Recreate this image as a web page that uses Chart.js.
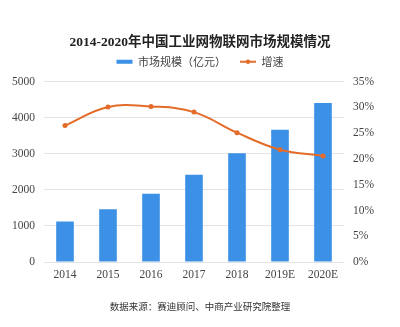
<!DOCTYPE html>
<html>
<head>
<meta charset="utf-8">
<script src="https://cdn.jsdelivr.net/npm/chart.js@4/dist/chart.umd.min.js"></script>
<style>
  html, body { margin: 0; padding: 0; background: #fff; }
  #wrap { width: 400px; height: 327px; }
</style>
</head>
<body>
<div id="wrap"><canvas id="c" width="400" height="327"></canvas></div>
<script>
// 2014-2020 China industrial IoT market: size (100M yuan) and growth rate (%)
const years = ['2014', '2015', '2016', '2017', '2018', '2019E', '2020E'];
const marketSize = [1120, 1464, 1890, 2417, 3019, 3667, 4408];
const growthRate = [26.5, 30.1, 30.2, 29.1, 25.1, 21.8, 20.6];
const sizeTicks = [0, 1000, 2000, 3000, 4000, 5000];
const rateTicks = [0, 5, 10, 15, 20, 25, 30, 35];

const BLUE = '#3c91e6';
const ORANGE = '#e36c2a';
const SERIF = "'Liberation Serif', 'Noto Sans CJK SC', serif";
const SANS = "'Noto Sans CJK SC', 'Noto Sans', sans-serif";

// Adds the marker dot onto the line series' legend swatch
const legendDot = {
  id: 'legendDot',
  afterDraw(chart) {
    const lg = chart.legend;
    if (!lg || !lg.legendHitBoxes) return;
    const ctx = chart.ctx;
    lg.legendItems.forEach((item, i) => {
      if (item.datasetIndex !== 1) return;
      const hb = lg.legendHitBoxes[i];
      const bw = lg.options.labels.pointStyleWidth;
      ctx.save();
      ctx.fillStyle = ORANGE;
      ctx.beginPath();
      ctx.arc(hb.left + bw / 2, hb.top + hb.height / 2, 2.2, 0, Math.PI * 2);
      ctx.fill();
      ctx.restore();
    });
  }
};

new Chart(document.getElementById('c'), {
  data: {
    labels: years,
    datasets: [
      {
        type: 'bar',
        label: '市场规模（亿元）',
        data: marketSize,
        xAxisID: 'x',
        yAxisID: 'ySize',
        backgroundColor: BLUE,
        borderWidth: 0,
        categoryPercentage: 1,
        barPercentage: 0.41,
        order: 1
      },
      {
        type: 'line',
        label: '增速',
        data: growthRate,
        xAxisID: 'x',
        yAxisID: 'yRate',
        borderColor: ORANGE,
        backgroundColor: ORANGE,
        borderWidth: 2,
        pointRadius: 2.5,
        pointBackgroundColor: ORANGE,
        pointBorderWidth: 0,
        tension: 0.4,
        order: 0
      }
    ]
  },
  options: {
    responsive: false,
    animation: false,
    devicePixelRatio: 1,
    layout: { padding: { left: 0, right: 0, top: 0, bottom: 0 } },
    plugins: {
      tooltip: { enabled: false },
      title: {
        display: true,
        text: '2014-2020年中国工业网物联网市场规模情况',
        color: '#222',
        font: { family: SERIF, size: 13.5, weight: 'bold' },
        padding: { top: 34, bottom: -8 }
      },
      subtitle: {
        display: true,
        position: 'bottom',
        text: '数据来源：赛迪顾问、中商产业研究院整理',
        color: '#333',
        font: { family: SANS, size: 9.5, weight: 'normal' },
        padding: { top: 12.6, bottom: 15 }
      },
      legend: {
        display: true,
        position: 'top',
        labels: {
          usePointStyle: true,
          pointStyleWidth: 16,
          boxHeight: 4,
          padding: 14,
          color: '#444',
          font: { family: SANS, size: 11 },
          sort: (a, b) => a.datasetIndex - b.datasetIndex,
          generateLabels(chart) {
            return chart.data.datasets.map((ds, i) => ({
              text: ds.label,
              datasetIndex: i,
              fillStyle: ds.type === 'bar' ? BLUE : ORANGE,
              strokeStyle: ds.type === 'bar' ? BLUE : ORANGE,
              lineWidth: ds.type === 'bar' ? 0 : 2,
              pointStyle: ds.type === 'bar' ? 'rect' : 'line',
              fontColor: '#444',
              hidden: false
            }));
          }
        }
      }
    },
    scales: {
      x: {
        grid: { display: false, drawTicks: false },
        border: { display: false },
        ticks: { color: '#444', font: { family: SERIF, size: 11.5 }, padding: 6, maxRotation: 0 },
        afterFit(s) { s.height = 26; }
      },
      // empty top band that leaves a gap between the legend and the plot
      xTop: {
        type: 'category',
        position: 'top',
        grid: { display: false, drawTicks: false },
        border: { display: false },
        ticks: { display: false },
        afterFit(s) { s.height = 4.5; }
      },
      ySize: {
        position: 'left',
        min: 0,
        max: 5000,
        afterBuildTicks(s) { s.ticks = sizeTicks.map(v => ({ value: v })); },
        grid: { color: '#e3e3e3', lineWidth: 1, drawTicks: false },
        border: { display: false },
        ticks: { color: '#444', font: { family: SERIF, size: 11.5 }, padding: 8.5, callback: v => String(v) },
        afterFit(s) { s.width = 43.5; }
      },
      yRate: {
        position: 'right',
        min: 0,
        max: 35,
        afterBuildTicks(s) { s.ticks = rateTicks.map(v => ({ value: v })); },
        grid: { display: false, drawTicks: false },
        border: { display: false },
        ticks: { color: '#444', font: { family: SERIF, size: 11.5 }, padding: 8.5, callback: v => v + '%' },
        afterFit(s) { s.width = 55.5; }
      }
    }
  },
  plugins: [legendDot]
});
</script>
</body>
</html>
